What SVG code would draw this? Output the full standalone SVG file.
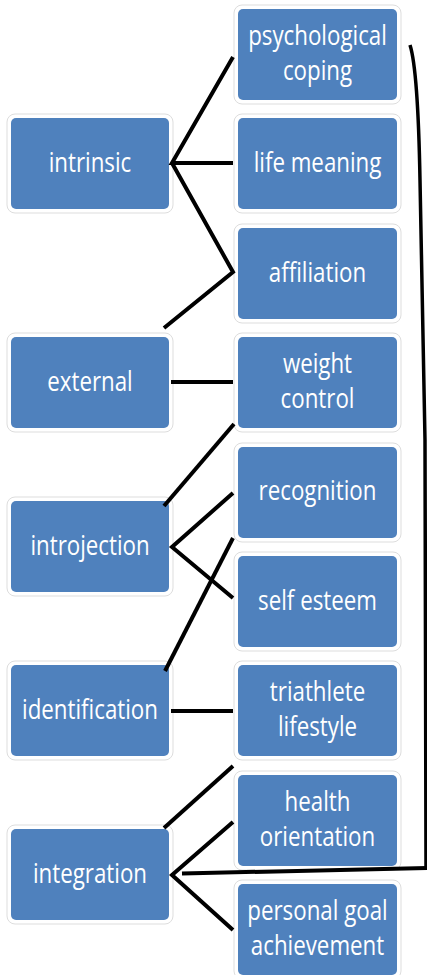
<svg xmlns="http://www.w3.org/2000/svg" width="427" height="975" viewBox="0 0 427 975">
<style>
.halo{fill:#ffffff;stroke:#dddddd;stroke-width:1}
.box{fill:#4F81BD}
.t{font-family:"Open Sans","Noto Sans",sans-serif;font-size:22.3px;fill:#ffffff;text-anchor:middle}
.c{fill:none;stroke:#000000;stroke-width:4;stroke-linecap:butt;stroke-linejoin:miter}
.b{fill:none;stroke:#000000;stroke-width:3.5}
</style>
<rect width="427" height="975" fill="#ffffff"/>
<g id="intrinsic"><rect class="halo" x="7" y="114" width="166" height="99" rx="8"/><rect class="box" x="11" y="118" width="158" height="91" rx="5"/><g transform="translate(90,163.5) scale(1,1.25)"><text class="t" y="7">intrinsic</text></g></g>
<g id="external"><rect class="halo" x="7" y="333" width="166" height="99" rx="8"/><rect class="box" x="11" y="337" width="158" height="91" rx="5"/><g transform="translate(90,382.5) scale(1,1.25)"><text class="t" y="7">external</text></g></g>
<g id="introjection"><rect class="halo" x="7" y="497" width="166" height="99" rx="8"/><rect class="box" x="11" y="501" width="158" height="91" rx="5"/><g transform="translate(90,546.5) scale(1,1.25)"><text class="t" y="7">introjection</text></g></g>
<g id="identification"><rect class="halo" x="7" y="661" width="166" height="99" rx="8"/><rect class="box" x="11" y="665" width="158" height="91" rx="5"/><g transform="translate(90,710.5) scale(1,1.25)"><text class="t" y="7">identification</text></g></g>
<g id="integration"><rect class="halo" x="7" y="825" width="166" height="99" rx="8"/><rect class="box" x="11" y="829" width="158" height="91" rx="5"/><g transform="translate(90,874.5) scale(1,1.25)"><text class="t" y="7">integration</text></g></g>
<g id="psychological-coping"><rect class="halo" x="234" y="5" width="167" height="99" rx="8"/><rect class="box" x="238" y="9" width="159" height="91" rx="5"/><g transform="translate(317.5,54.5) scale(1,1.25)"><text class="t" y="-7.5">psychological</text><text class="t" y="20">coping</text></g></g>
<g id="life-meaning"><rect class="halo" x="234" y="114" width="167" height="99" rx="8"/><rect class="box" x="238" y="118" width="159" height="91" rx="5"/><g transform="translate(317.5,163.5) scale(1,1.25)"><text class="t" y="7">life meaning</text></g></g>
<g id="affiliation"><rect class="halo" x="234" y="224" width="167" height="99" rx="8"/><rect class="box" x="238" y="228" width="159" height="91" rx="5"/><g transform="translate(317.5,273.5) scale(1,1.25)"><text class="t" y="7">affiliation</text></g></g>
<g id="weight-control"><rect class="halo" x="234" y="333" width="167" height="99" rx="8"/><rect class="box" x="238" y="337" width="159" height="91" rx="5"/><g transform="translate(317.5,382.5) scale(1,1.25)"><text class="t" y="-7.5">weight</text><text class="t" y="20">control</text></g></g>
<g id="recognition"><rect class="halo" x="234" y="443" width="167" height="99" rx="8"/><rect class="box" x="238" y="447" width="159" height="91" rx="5"/><g transform="translate(317.5,492.5) scale(1,1.25)"><text class="t" y="6">recognition</text></g></g>
<g id="self-esteem"><rect class="halo" x="234" y="552" width="167" height="99" rx="8"/><rect class="box" x="238" y="556" width="159" height="91" rx="5"/><g transform="translate(317.5,601.5) scale(1,1.25)"><text class="t" y="7">self esteem</text></g></g>
<g id="triathlete-lifestyle"><rect class="halo" x="234" y="661" width="167" height="99" rx="8"/><rect class="box" x="238" y="665" width="159" height="91" rx="5"/><g transform="translate(317.5,710.5) scale(1,1.25)"><text class="t" y="-7.5">triathlete</text><text class="t" y="20">lifestyle</text></g></g>
<g id="health-orientation"><rect class="halo" x="234" y="771" width="167" height="99" rx="8"/><rect class="box" x="238" y="775" width="159" height="91" rx="5"/><g transform="translate(317.5,820.5) scale(1,1.25)"><text class="t" y="-7.5">health</text><text class="t" y="20">orientation</text></g></g>
<g id="personal-goal-achievement"><rect class="halo" x="234" y="880" width="167" height="99" rx="8"/><rect class="box" x="238" y="884" width="159" height="91" rx="5"/><g transform="translate(317.5,929.5) scale(1,1.25)"><text class="t" y="-7.5">personal goal</text><text class="t" y="20">achievement</text></g></g>
<g id="connectors">
<polyline class="c" points="233,57 172,163 233,163"/>
<polyline class="c" points="172,163 233,272 164,328"/>
<line class="c" x1="171" y1="382" x2="233" y2="382"/>
<line class="c" x1="234" y1="424" x2="164" y2="506"/>
<polyline class="c" points="233,493 172,547 233,598"/>
<line class="c" x1="233" y1="538" x2="165" y2="671"/>
<line class="c" x1="171" y1="711" x2="233" y2="711"/>
<line class="c" x1="233" y1="766" x2="164" y2="828"/>
<polyline class="c" points="233,822 172,875 233,930"/>
<path class="b" d="M410,45 Q418,70 420,180 L425,440 L426,869"/>
<line class="c" x1="182" y1="873.5" x2="427" y2="868"/>
</g>
</svg>
